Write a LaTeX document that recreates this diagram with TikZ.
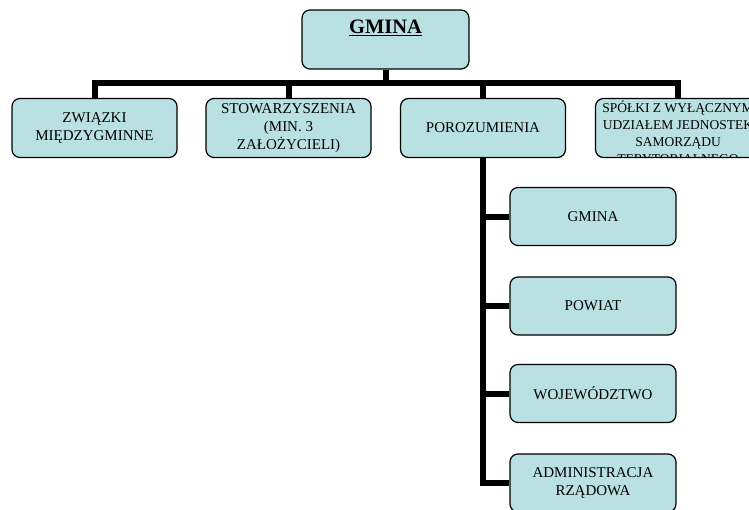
\documentclass[tikz,border=0pt]{standalone}
\usepackage{fontspec}
\setmainfont{Liberation Serif}
\definecolor{boxfill}{RGB}{185,224,227}
\tikzset{
  box/.style={draw, line width=1.2pt, fill=boxfill, rounded corners=8pt, minimum width=165pt, minimum height=59pt, align=center, inner sep=2pt, font=\fontsize{15}{18}\selectfont},
  conn/.style={line width=6pt},
  intext/.style={draw=none, fill=none, minimum width=0pt, minimum height=0pt, inner sep=0pt, anchor=north, align=center}
}
\begin{document}
\begin{tikzpicture}[x=1pt,y=-1pt]
\useasboundingbox (0,0) rectangle (749,509);
\clip (0,0) rectangle (749,509);

\node[box, minimum width=167pt, path picture={\node[intext, font=\fontsize{20.5}{24}\selectfont\bfseries] at ([yshift=-9.5pt]path picture bounding box.north) {\underline{GMINA}};}] (gmina) at (385.5,39.5) {};

\node[box] (zwiazki) at (94.5,128) {ZWIĄZKI\\MIĘDZYGMINNE};
\node[box] (stow) at (288.5,128) {STOWARZYSZENIA\\(MIN. 3\\ZAŁOŻYCIELI)};
\node[box] (poroz) at (483,128) {POROZUMIENIA};
\node[box, path picture={\node[intext, font=\fontsize{13.5}{17}\selectfont] at ([yshift=-2pt]path picture bounding box.north) {SPÓŁKI Z WYŁĄCZNYM\\UDZIAŁEM JEDNOSTEK\\SAMORZĄDU\\TERYTORIALNEGO};}] (spolki) at (678,128) {};

\node[box, minimum width=166pt, minimum height=58pt] (gmina2) at (593,216.5) {GMINA};
\node[box, minimum width=166pt, minimum height=58pt] (powiat) at (593,306) {POWIAT};
\node[box, minimum width=166pt, minimum height=58pt] (woj) at (593,393.5) {WOJEWÓDZTWO};
\node[box, minimum width=166pt, minimum height=58pt] (admin) at (593,483) {ADMINISTRACJA\\RZĄDOWA};

\draw[conn] (gmina.south) -- ++(0,14);
\draw[conn] (zwiazki.north) -- ++(0,-15) -| (spolki.north);
\draw[conn] (stow.north) -- ++(0,-15);
\draw[conn] (poroz.north) -- ++(0,-15);
\draw[conn] (poroz.south) |- (admin.west);
\foreach \n in {gmina2,powiat,woj}
  \draw[conn] (\n.west) -- (\n.west -| poroz.south);
\end{tikzpicture}
\end{document}
